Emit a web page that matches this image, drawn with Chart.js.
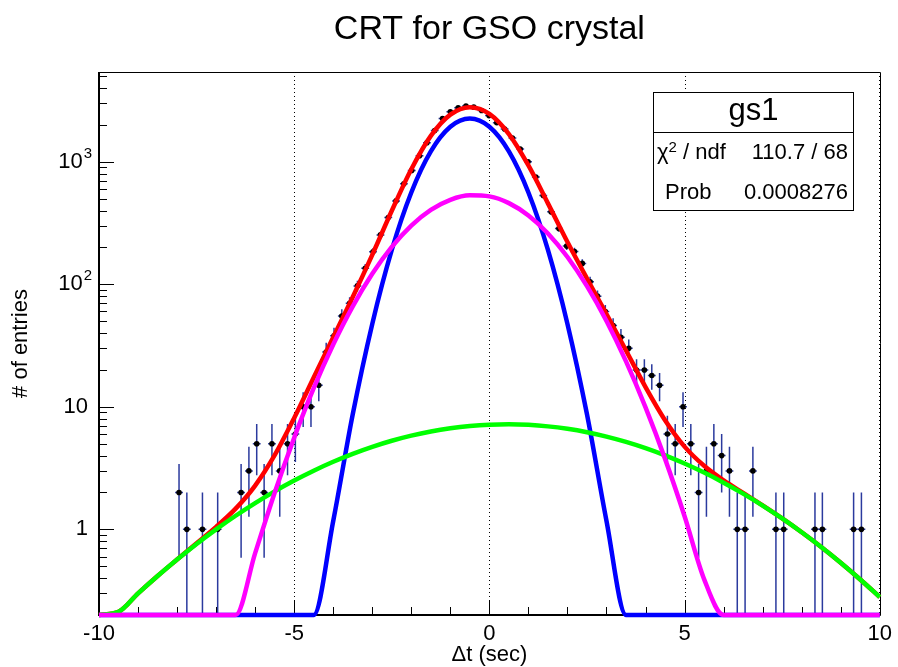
<!DOCTYPE html>
<html>
<head>
<meta charset="utf-8">
<title>CRT for GSO crystal</title>
<script src="https://cdn.jsdelivr.net/npm/chart.js@4.4.1/dist/chart.umd.min.js"></script>
<style>
  html, body { margin: 0; padding: 0; background: #fff; }
  canvas { display: block; }
</style>
</head>
<body>
<canvas id="crt" width="898" height="667"></canvas>
<script>
// ---- histogram: bin centres (sec) and entries per bin ----
const binCenters = [
  -7.95, -7.75, -7.55, -7.35, -7.16, -6.96, -6.76, -6.56, -6.36, -6.16,
  -5.96, -5.77, -5.57, -5.37, -5.17, -4.97, -4.77, -4.57, -4.37, -4.18,
  -3.98, -3.78, -3.58, -3.38, -3.18, -2.98, -2.79, -2.59, -2.39, -2.19,
  -1.99, -1.79, -1.60, -1.40, -1.20, -1.00, -0.80, -0.60, -0.40, -0.20,
  -0.01, 0.19, 0.39, 0.59, 0.79, 0.99, 1.19, 1.38, 1.58, 1.78,
  1.98, 2.18, 2.38, 2.58, 2.77, 2.97, 3.17, 3.37, 3.57, 3.77,
  3.97, 4.16, 4.36, 4.56, 4.76, 4.96, 5.16, 5.36, 5.56, 5.75,
  5.95, 6.15, 6.35, 6.55, 6.75, 6.94, 7.14, 7.34, 7.54, 7.74,
  7.94, 8.14, 8.34, 8.53, 8.73, 8.93, 9.13, 9.33, 9.53
];
const binCounts = [
  2, 1, 0, 1, 0, 1, 0, 0, 2, 3,
  5, 2, 5, 3, 5, 6, 10, 10, 15, 28,
  38, 55, 70, 97, 135, 184, 253, 350, 479, 660,
  850, 1120, 1430, 1800, 2250, 2560, 2760, 2850, 2790, 2620,
  2380, 2080, 1850, 1560, 1270, 1000, 750, 530, 390, 285,
  205, 185, 148, 105, 80, 60, 46, 37, 30, 20,
  20, 18, 15, 6, 5, 10, 5, 2, 3, 5,
  4, 3, 1, 1, 3, 0, 0, 1, 1, 0,
  0, 0, 1, 1, 0, 0, 0, 1, 1
];
const halfBin = 0.1;

// ---- fit curves sampled along the time axis (values at the frame floor sit on 0.2) ----
const curveX = [
  -10, -9.5, -9, -8.5, -8, -7.5, -7, -6.5, -6, -5.5,
  -5, -4.5, -4, -3.5, -3, -2.5, -2, -1.5, -1, -0.5,
  0, 0.5, 1, 1.5, 2, 2.5, 3, 3.5, 4, 4.5,
  5, 5.5, 6, 6.5, 7, 7.5, 8, 8.5, 9, 9.5, 10
];
const totalFit = [
  0.2, 0.212, 0.300, 0.416, 0.567, 0.771, 1.047, 1.475, 2.277, 4.03,
  8.11, 17.33, 36.93, 78.8, 173.9, 397.8, 868.2, 1625, 2424, 2789,
  2457, 1681, 932.4, 457.5, 221.1, 111.4, 57.1, 28.8, 14.5, 7.78,
  4.73, 3.30, 2.51, 1.985, 1.57, 1.228, 0.947, 0.718, 0.534, 0.390, 0.280
];
const narrowGauss = [
  0.2, 0.2, 0.2, 0.2, 0.2, 0.2, 0.2, 0.2, 0.2, 0.2,
  0.2, 0.2, 1.17, 8.69, 47.5, 190.6, 561, 1214, 1928, 2250,
  1928, 1214, 561, 190.6, 47.5, 8.69, 1.17, 0.2, 0.2, 0.2,
  0.2, 0.2, 0.2, 0.2, 0.2, 0.2, 0.2, 0.2, 0.2, 0.2, 0.2
];
const mediumGauss = [
  0.2, 0.2, 0.2, 0.2, 0.2, 0.2, 0.2, 0.2, 0.639, 1.99,
  5.60, 14.2, 32.2, 66.0, 121.7, 201.9, 301.4, 404.8, 489.4, 532.5,
  521.4, 459.4, 364.3, 260.0, 167.0, 96.5, 50.2, 23.5, 9.90, 3.76,
  1.28, 0.393, 0.2, 0.2, 0.2, 0.2, 0.2, 0.2, 0.2, 0.2, 0.2
];
const wideGauss = [
  0.2, 0.212, 0.300, 0.416, 0.567, 0.760, 0.999, 1.291, 1.638, 2.043,
  2.502, 3.010, 3.559, 4.132, 4.714, 5.283, 5.815, 6.289, 6.681, 6.973,
  7.148, 7.199, 7.123, 6.923, 6.610, 6.200, 5.713, 5.170, 4.598, 4.017,
  3.447, 2.905, 2.405, 1.957, 1.564, 1.228, 0.947, 0.718, 0.534, 0.390, 0.280
];

// ---- axes ----
const xRange = [-10, 10];
const yRange = [0.2, 5400];
const xGridValues = [-10, -5, 0, 5, 10];
const yLabelValues = [1, 10, 100, 1000];
const yLabelBase = ['1', '10', '10', '10'];
const yLabelExp = ['', '', '2', '3'];

// ---- fit statistics box ----
const statsTitle = 'gs1';
const chi2Text = '110.7 / 68';
const probText = '0.0008276';

const FONT = "'Liberation Sans', Arial, Helvetica, sans-serif";
const errColor = '#2b3a9e';

Chart.defaults.font.family = FONT;
Chart.defaults.color = '#000';

const xy = (xs, ys) => xs.map((v, i) => ({ x: v, y: ys[i] }));
const histPoints = binCenters
  .map((c, i) => ({ x: c, y: binCounts[i] }))
  .filter(p => p.y > 0);

// frame, inner tick marks, dotted grid and error bars (below the curves)
const framePlugin = {
  id: 'frame',
  beforeDatasetsDraw(chart) {
    const { ctx, chartArea: a, scales: { x, y } } = chart;
    ctx.save();

    // dotted vertical grid at the major time ticks
    ctx.strokeStyle = '#000';
    ctx.lineWidth = 1;
    ctx.setLineDash([1, 3]);
    xGridValues.forEach(v => {
      let px = Math.round(x.getPixelForValue(v)) + 0.5;
      if (v === xRange[1]) px -= 1;
      ctx.beginPath(); ctx.moveTo(px, a.top); ctx.lineTo(px, a.bottom); ctx.stroke();
    });
    ctx.setLineDash([]);

    // x tick marks, inside the frame
    ctx.lineWidth = 1;
    for (let v = xRange[0]; v <= xRange[1]; v += 1) {
      const px = Math.round(x.getPixelForValue(v)) + 0.5;
      const len = (v % 5 === 0) ? 15 : 8;
      ctx.beginPath(); ctx.moveTo(px, a.bottom); ctx.lineTo(px, a.bottom - len); ctx.stroke();
    }
    // y tick marks on the log axis, inside the frame
    for (let d = 0.1; d < 1e4; d *= 10) {
      for (let m = 1; m <= 9; m++) {
        const v = m * d;
        if (v < yRange[0] * 0.999 || v > yRange[1]) continue;
        const py = Math.round(y.getPixelForValue(v)) + 0.5;
        const len = (m === 1) ? 15 : 8;
        ctx.beginPath(); ctx.moveTo(a.left, py); ctx.lineTo(a.left + len, py); ctx.stroke();
      }
    }

    // frame
    ctx.lineWidth = 1;
    ctx.beginPath();
    ctx.moveTo(a.left, Math.round(a.top) + 0.5);
    ctx.lineTo(Math.round(a.right) + 0.5, Math.round(a.top) + 0.5);
    ctx.lineTo(Math.round(a.right) + 0.5, a.bottom);
    ctx.stroke();
    ctx.lineWidth = 2;
    ctx.beginPath();
    ctx.moveTo(Math.round(a.left), a.top);
    ctx.lineTo(Math.round(a.left), Math.round(a.bottom));
    ctx.lineTo(a.right + 1, Math.round(a.bottom));
    ctx.stroke();

    // y labels with powers of ten
    ctx.fillStyle = '#000';
    ctx.textBaseline = 'middle';
    ctx.textAlign = 'right';
    yLabelValues.forEach((v, i) => {
      const py = y.getPixelForValue(v);
      if (yLabelExp[i]) {
        ctx.font = '15px ' + FONT;
        const ew = ctx.measureText(yLabelExp[i]).width;
        ctx.fillText(yLabelExp[i], 92, py - 8);
        ctx.font = '22px ' + FONT;
        ctx.fillText(yLabelBase[i], 92 - ew - 1, py);
      } else {
        ctx.font = '22px ' + FONT;
        ctx.fillText(yLabelBase[i], 88, py);
      }
    });

    // statistical error bars of the histogram
    ctx.strokeStyle = errColor;
    ctx.lineWidth = 1.5;
    binCenters.forEach((c, i) => {
      const n = binCounts[i];
      if (n <= 0) return;
      const e = Math.sqrt(n);
      const px = x.getPixelForValue(c);
      const py = y.getPixelForValue(n);
      const top = y.getPixelForValue(n + e);
      const lo = n - e;
      const bot = lo > yRange[0] ? y.getPixelForValue(lo) : a.bottom;
      ctx.beginPath();
      ctx.moveTo(px, top); ctx.lineTo(px, bot);
      ctx.moveTo(x.getPixelForValue(c - halfBin), py);
      ctx.lineTo(x.getPixelForValue(c + halfBin), py);
      ctx.stroke();
    });
    ctx.restore();
  },
  afterDatasetsDraw(chart) {
    const { ctx } = chart;
    ctx.save();
    const bx = 653.5, by = 92.5, bw = 200, bh = 118;
    ctx.fillStyle = '#fff';
    ctx.fillRect(bx, by, bw, bh);
    ctx.strokeStyle = '#000';
    ctx.lineWidth = 1;
    ctx.strokeRect(bx, by, bw, bh);
    ctx.beginPath(); ctx.moveTo(bx, 132.5); ctx.lineTo(bx + bw, 132.5); ctx.stroke();

    ctx.fillStyle = '#000';
    ctx.textBaseline = 'alphabetic';
    ctx.textAlign = 'center';
    ctx.font = '31px ' + FONT;
    ctx.fillText(statsTitle, bx + bw / 2, 119.5);

    ctx.textAlign = 'left';
    ctx.font = '22px ' + FONT;
    ctx.fillText('\u03c7', 657, 158.5);
    const chiW = ctx.measureText('\u03c7').width;
    ctx.font = '15px ' + FONT;
    ctx.fillText('2', 657 + chiW, 151.5);
    const twoW = ctx.measureText('2').width;
    ctx.font = '22px ' + FONT;
    ctx.fillText(' / ndf', 657 + chiW + twoW, 158.5);
    ctx.fillText('Prob', 665, 198.5);

    ctx.textAlign = 'right';
    ctx.fillText(chi2Text, 848, 158.5);
    ctx.fillText(probText, 848, 198.5);
    ctx.restore();
  }
};

const curve = (label, data, color, order) => ({
  type: 'line',
  label,
  data,
  borderColor: color,
  backgroundColor: color,
  borderWidth: 4.5,
  pointRadius: 0,
  fill: false,
  cubicInterpolationMode: 'monotone',
  clip: 6,
  order
});

new Chart(document.getElementById('crt'), {
  type: 'line',
  data: {
    datasets: [
      {
        type: 'line',
        label: 'entries',
        data: histPoints,
        showLine: false,
        pointRadius: 2.8,
        pointHoverRadius: 2.8,
        pointBackgroundColor: '#000',
        pointBorderColor: '#000',
        pointBorderWidth: 0,
        clip: 4,
        order: 6
      },
      curve('total', xy(curveX, totalFit), '#ff0000', 5),
      curve('narrow', xy(curveX, narrowGauss), '#0000ff', 4),
      curve('wide', xy(curveX, wideGauss), '#00ff00', 3),
      curve('medium', xy(curveX, mediumGauss), '#ff00ff', 2)
    ]
  },
  options: {
    responsive: false,
    animation: false,
    events: [],
    layout: { padding: { left: 0, right: 15, top: 0, bottom: 0 } },
    plugins: {
      legend: { display: false },
      tooltip: { enabled: false },
      title: {
        display: true,
        fullSize: false,
        align: 'center',
        text: 'CRT for GSO crystal',
        color: '#000',
        font: { size: 34, weight: 'normal' },
        padding: { top: 9, bottom: 22.2 }
      }
    },
    scales: {
      x: {
        type: 'linear',
        min: xRange[0],
        max: xRange[1],
        grid: { display: false, drawTicks: false },
        border: { display: false },
        ticks: { stepSize: 5, font: { size: 22 }, color: '#000', padding: 6, maxRotation: 0, autoSkip: false },
        title: { display: true, text: '\u0394t (sec)', font: { size: 22, lineHeight: 1 }, color: '#000', padding: { top: 0, bottom: 1 } },
        afterFit(s) { s.height = 52; }
      },
      y: {
        type: 'logarithmic',
        min: yRange[0],
        max: yRange[1],
        grid: { display: false, drawTicks: false },
        border: { display: false },
        ticks: { display: false },
        title: { display: true, text: '# of entries', font: { size: 22 }, color: '#000', padding: { top: 8, bottom: 0 } },
        afterFit(s) { s.width = 99; }
      }
    }
  },
  plugins: [framePlugin]
});
</script>
</body>
</html>
